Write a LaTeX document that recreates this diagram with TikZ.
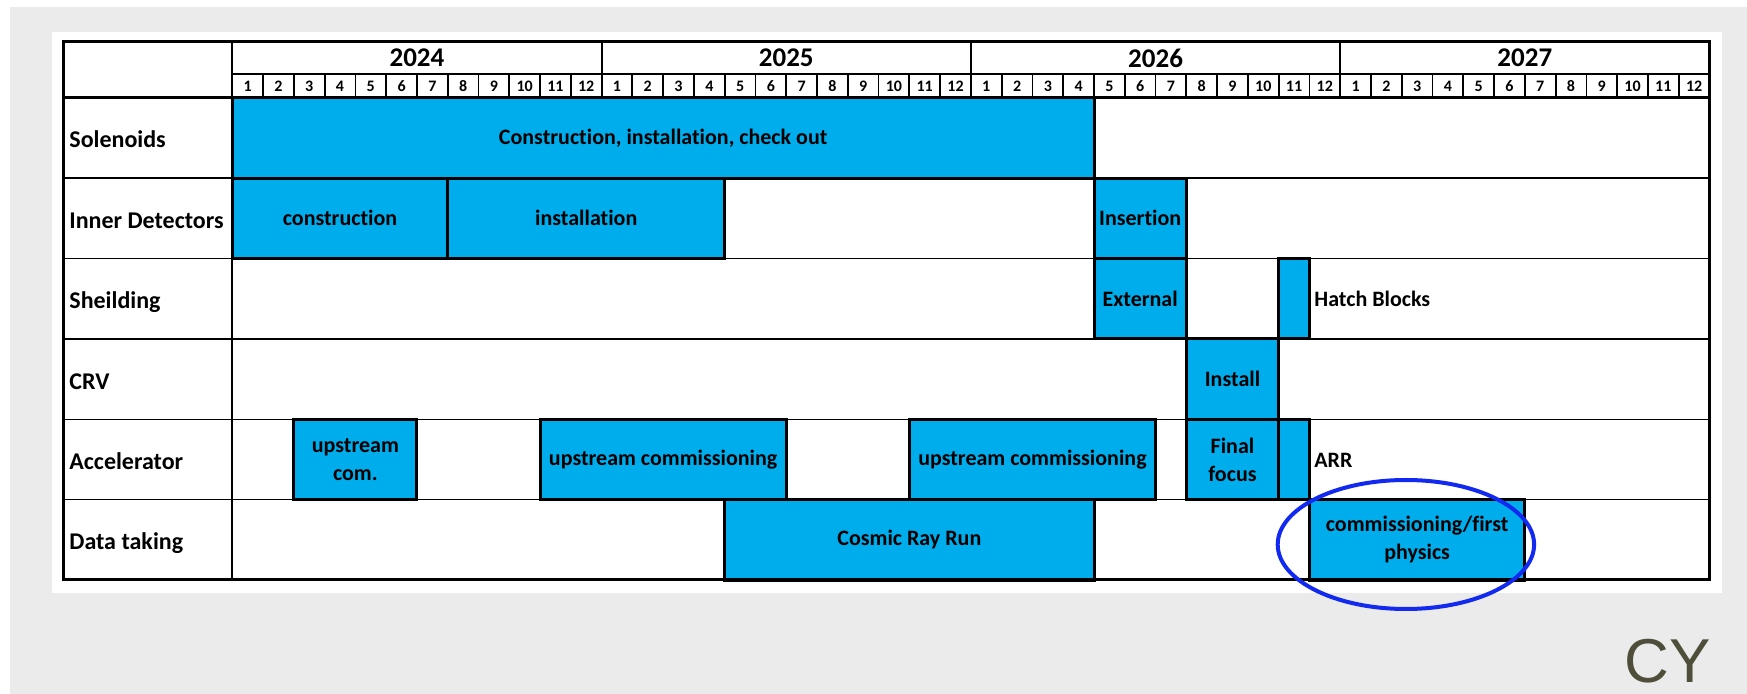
\documentclass[tikz,border=0pt]{standalone}
\usepackage{fontspec}
\setmainfont{Carlito}[Ligatures=NoCommon]
\newfontfamily\cyfont{Liberation Sans}
\usetikzlibrary{positioning,calc}

\definecolor{barblue}{RGB}{0,173,236}
\definecolor{slidegrey}{RGB}{235,235,235}
\definecolor{ringblue}{RGB}{18,42,240}
\definecolor{cygrey}{RGB}{78,78,58}

% month width, row height, left edge of the months, top of the first row
\newcommand{\mw}{30.775}
\newcommand{\rh}{80.4}
\newcommand{\xo}{232.3}
\newcommand{\yo}{97.7}

\tikzset{
  bar/.style={draw, line width=1.5pt, fill=barblue, inner sep=0pt, align=center,
    font=\bfseries\fontsize{11}{14}\selectfont},
  rowlabel/.style={anchor=base west, inner sep=0pt, font=\bfseries\fontsize{12}{14}\selectfont},
  sidelabel/.style={rowlabel, font=\bfseries\fontsize{11}{14}\selectfont},
  yearlabel/.style={font=\bfseries\fontsize{13.5}{14}\selectfont},
  monthlabel/.style={font=\bfseries\fontsize{8}{9}\selectfont},
  gridline/.style={line width=0.7pt},
}

% \ganttbar{name}{row}{first month}{last month}{text}
\newcommand{\ganttbar}[5]{%
  \node[bar, minimum width={(#4-#3+1)*\mw*0.5pt}, minimum height={\rh*0.5pt}]
    (#1) at ({\xo+(#3+#4-1)/2*\mw}, {\yo+(#2-0.5)*\rh}) {#5};}

\begin{document}
\begin{tikzpicture}[x=0.5pt, y=-0.5pt]
    \useasboundingbox (0,0) rectangle (1747,694);
    \fill[white] (0,0) rectangle (1747,694);
    \fill[slidegrey] (9.6,6.7) rectangle (1747,694);
    \fill[white] (51.7,31.7) rectangle (1722,593);

    % rows
    \foreach \r in {1,...,5}
        \draw[gridline] (63,{\yo+\r*\rh}) -- (1709.5,{\yo+\r*\rh});
    \foreach \lab [count=\r] in {Solenoids, Inner Detectors, Sheilding, CRV, Accelerator, Data taking}
        \node[rowlabel] (row\r) at (69,{\yo+(\r-0.5)*\rh+10}) {\lab};

    % years and months
    \draw[line width=1pt] (\xo,74) -- (1709.5,74);
    \foreach \yr [count=\k from 0] in {2024,2025,2026,2027} {
        \draw[line width=1pt] ({\xo+12*\k*\mw},41.7) -- ({\xo+12*\k*\mw},74);
        \node[yearlabel] (y\yr) at ({\xo+(12*\k+6)*\mw},58) {\yr};
    }
    \foreach \m [evaluate=\m as \mn using {int(mod(\m-1,12)+1)}] in {1,...,48} {
        \draw[line width=0.9pt] ({\xo+(\m-1)*\mw},74) rectangle ({\xo+\m*\mw},97.7);
        \node[monthlabel] (m\m) at ({\xo+(\m-0.5)*\mw},86) {\mn};
    }

    % bars
    \ganttbar{sol}{1}{1}{28}{Construction, installation, check out}
    \ganttbar{idcons}{2}{1}{7}{construction}
    \ganttbar{idinst}{2}{8}{16}{installation}
    \ganttbar{idins}{2}{29}{31}{Insertion}
    \ganttbar{shext}{3}{29}{31}{External}
    \ganttbar{shhatch}{3}{35}{35}{}
    \ganttbar{crv}{4}{32}{34}{Install}
    \ganttbar{acc1}{5}{3}{6}{upstream\\com.}
    \ganttbar{acc2}{5}{11}{18}{upstream commissioning}
    \ganttbar{acc3}{5}{23}{30}{upstream commissioning}
    \ganttbar{accff}{5}{32}{34}{Final\\focus}
    \ganttbar{accarr}{5}{35}{35}{}
    \ganttbar{cosmic}{6}{17}{28}{Cosmic Ray Run}
    \ganttbar{phys}{6}{36}{42}{commissioning/first\\physics}
    \node[sidelabel] (hatch) at (1314,{\yo+2.5*\rh+8}) {Hatch Blocks};
    \node[sidelabel] (arr) at (1314,{\yo+4.5*\rh+8}) {ARR};

    % frame
    \draw[line width=1pt] (\xo,41.7) -- (\xo,580);
    \draw[line width=1.5pt] (63,\yo) -- (1709.5,\yo);
    \draw[line width=1.5pt] (63,41.7) rectangle (1709.5,580);

    \draw[ringblue, line width=2pt] (1405.9,544.5) ellipse [x radius=64.1pt, y radius=32.25pt];
    \node[anchor=base west, inner sep=0pt, text=cygrey, font=\cyfont\fontsize{31}{31}\selectfont] (cy) at (1624,683) {CY};
\end{tikzpicture}
\end{document}
